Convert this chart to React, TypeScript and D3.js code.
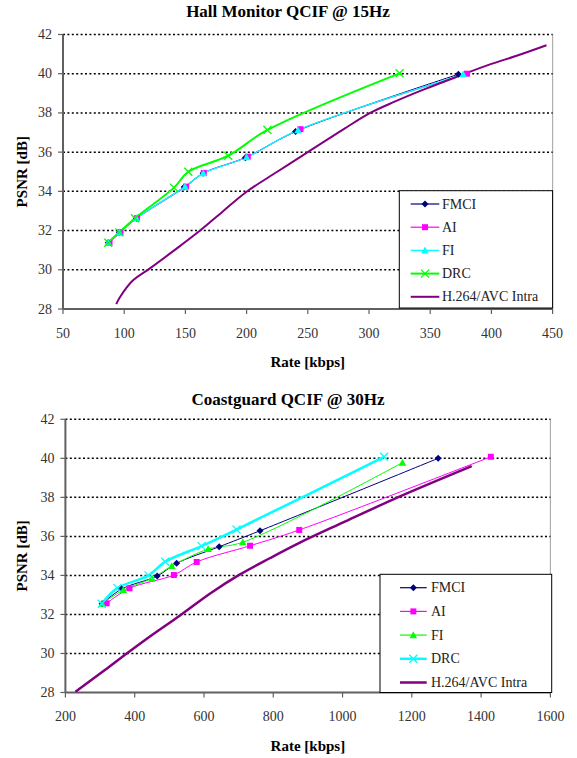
import React from "react";
import * as d3 from "d3";

// ---------- Data: Hall Monitor QCIF @ 15Hz ----------
const hallFMCI: [number, number][] = [[87, 31.38], [96, 31.91], [110, 32.63], [149, 34.22], [164.5, 34.92], [199, 35.72], [240, 37.05], [373, 39.97]];
const hallAI: [number, number][] = [[88, 31.38], [97, 31.91], [110.5, 32.63], [150.5, 34.24], [165, 34.94], [201, 35.77], [244, 37.17], [380, 40.0]];
const hallFI: [number, number][] = [[87, 31.38], [96, 31.91], [110, 32.63], [149.7, 34.24], [164.6, 34.92], [200, 35.74], [242, 37.12], [377, 39.97]];
const hallDRC: [number, number][] = [[87, 31.38], [96, 31.91], [108.8, 32.63], [140.7, 34.19], [152.4, 35.0], [185, 35.82], [217, 37.13], [325, 40.02]];
const hallH264: [number, number][] = [[93.5, 28.25], [96.5, 28.6], [107, 29.45], [121, 30.07], [140, 30.95], [162, 32.0], [181, 33.0], [200, 33.98], [225, 35.0], [250, 36.0], [280, 37.2], [301, 38.0], [320, 38.55], [345, 39.2], [372, 39.85], [400, 40.5], [420, 40.9], [445, 41.45]];

// ---------- Data: Coastguard QCIF @ 30Hz ----------
const coastFMCI: [number, number][] = [[306, 32.55], [362, 33.3], [465, 33.97], [521, 34.62], [644, 35.47], [762, 36.29], [1276, 40.0]];
const coastAI: [number, number][] = [[319, 32.57], [385, 33.34], [513, 34.02], [579, 34.69], [733, 35.52], [875, 36.33], [1428, 40.08]];
const coastFI: [number, number][] = [[306, 32.55], [367, 33.25], [450, 33.85], [507, 34.48], [612, 35.35], [712, 35.7], [1173, 39.78]];
const coastDRC: [number, number][] = [[305, 32.55], [350, 33.35], [440, 34.0], [488, 34.7], [593, 35.5], [694, 36.35], [1120, 40.08]];
const coastH264: [number, number][] = [[229, 28.04], [314, 29.15], [377, 30.0], [450, 30.95], [531, 31.95], [620, 33.1], [704, 34.05], [790, 34.88], [877, 35.68], [1000, 36.7], [1166, 38.05], [1373, 39.6]];

const legendNames = ["FMCI", "AI", "FI", "DRC", "H.264/AVC Intra"];
const yTicks = [28, 30, 32, 34, 36, 38, 40, 42];
const hallXTicks = [50, 100, 150, 200, 250, 300, 350, 400, 450];
const coastXTicks = [200, 400, 600, 800, 1000, 1200, 1400, 1600];

type Marker = "diamond" | "square" | "triangle" | "x" | "none";
interface Series { name: string; data: [number, number][]; color: string; width: number; marker: Marker; }

const NAVY = "#000080", MAG = "#FF00FF", CYAN = "#00FFFF", GREEN = "#00FF00", PURPLE = "#800080";

const FONT = "'Liberation Serif', 'Times New Roman', serif";

function MarkerShape({ type, x, y, color }: { type: Marker; x: number; y: number; color: string }) {
  if (type === "diamond") {
    const s = 3.5;
    return <path d={`M${x},${y - s}L${x + s},${y}L${x},${y + s}L${x - s},${y}Z`} fill={color} />;
  }
  if (type === "square") {
    const s = 3;
    return <rect x={x - s} y={y - s} width={2 * s} height={2 * s} fill={color} />;
  }
  if (type === "triangle") {
    const s = 3.8;
    return <path d={`M${x},${y - s}L${x + s},${y + s * 0.8}L${x - s},${y + s * 0.8}Z`} fill={color} />;
  }
  if (type === "x") {
    const s = 4;
    return <path d={`M${x - s},${y - s}L${x + s},${y + s}M${x - s},${y + s}L${x + s},${y - s}`} stroke={color} strokeWidth={1.3} fill="none" />;
  }
  return null;
}

interface ChartProps {
  title: string; titleY: number;
  left: number; right: number; top: number; bottom: number;
  xDomain: [number, number]; xTicks: number[];
  series: Series[];
  legend: { x0: number; y0: number; x1: number; y1: number; rowY: number; step: number; lx0: number; lx1: number; tx: number };
}

function Chart(p: ChartProps) {
  const x = d3.scaleLinear().domain(p.xDomain).range([p.left, p.right]);
  const y = d3.scaleLinear().domain([28, 42]).range([p.bottom, p.top]);
  const line = d3.line<[number, number]>().x(d => x(d[0])).y(d => y(d[1])).curve(d3.curveCatmullRom.alpha(0.5));
  const cx = (p.left + p.right) / 2;
  const cy = (p.top + p.bottom) / 2;
  const L = p.legend;
  return (
    <g fontFamily={FONT}>
      <text x={288} y={p.titleY} textAnchor="middle" dominantBaseline="central" fontWeight="bold" fontSize={17} fill="#000">{p.title}</text>
      {/* right border */}
      <line x1={p.right} x2={p.right} y1={p.top} y2={p.bottom} stroke="#b0b0b0" strokeWidth={1.2} />
      {/* gridlines */}
      {yTicks.filter(t => t > 28).map(t => (
        <line key={t} x1={p.left} x2={p.right} y1={y(t)} y2={y(t)} stroke="#000" strokeWidth={1.5} strokeDasharray="2,2.4" />
      ))}
      {/* axes */}
      <line x1={p.left} x2={p.left} y1={p.top} y2={p.bottom} stroke="#606060" strokeWidth={2} />
      <line x1={p.left} x2={p.right} y1={p.bottom} y2={p.bottom} stroke="#606060" strokeWidth={2} />
      {yTicks.map(t => (
        <g key={t}>
          <line x1={p.left - 5} x2={p.left} y1={y(t)} y2={y(t)} stroke="#606060" strokeWidth={1.2} />
          <text x={p.left - 11} y={y(t)} textAnchor="end" dominantBaseline="central" fontSize={14} fill="#333">{t}</text>
        </g>
      ))}
      {p.xTicks.map(t => (
        <g key={t}>
          <line x1={x(t)} x2={x(t)} y1={p.bottom} y2={p.bottom + 5} stroke="#606060" strokeWidth={1.2} />
          <text x={x(t)} y={p.bottom + 24} textAnchor="middle" dominantBaseline="central" fontSize={14} fill="#333">{t}</text>
        </g>
      ))}
      <text x={cx} y={p.bottom + 53} textAnchor="middle" dominantBaseline="central" fontWeight="bold" fontSize={15} fill="#000">Rate [kbps]</text>
      <text transform={`translate(22,${cy}) rotate(-90)`} textAnchor="middle" dominantBaseline="central" fontWeight="bold" fontSize={15} fill="#000">PSNR [dB]</text>
      {/* series lines */}
      {p.series.map(s => (
        <path key={s.name} d={line(s.data) || ""} fill="none" stroke={s.color} strokeWidth={s.width} />
      ))}
      {p.series.map(s => s.data.map((d, i) => (
        <MarkerShape key={s.name + i} type={s.marker} x={x(d[0])} y={y(d[1])} color={s.color} />
      )))}
      {/* legend */}
      <rect x={L.x0} y={L.y0} width={L.x1 - L.x0} height={L.y1 - L.y0} fill="#fff" stroke="#000" strokeWidth={1} />
      {p.series.map((s, i) => {
        const ry = L.rowY + i * L.step;
        return (
          <g key={"lg" + s.name}>
            <line x1={L.lx0} x2={L.lx1} y1={ry} y2={ry} stroke={s.color} strokeWidth={Math.max(s.width, 1.2)} />
            <MarkerShape type={s.marker} x={(L.lx0 + L.lx1) / 2} y={ry} color={s.color} />
            <text x={L.tx} y={ry} dominantBaseline="central" fontSize={14} fill="#222">{legendNames[i]}</text>
          </g>
        );
      })}
    </g>
  );
}

export default function App() {
  const hallSeries: Series[] = [
    { name: "FMCI", data: hallFMCI, color: NAVY, width: 1, marker: "diamond" },
    { name: "AI", data: hallAI, color: MAG, width: 1, marker: "square" },
    { name: "FI", data: hallFI, color: CYAN, width: 1.3, marker: "triangle" },
    { name: "DRC", data: hallDRC, color: GREEN, width: 2, marker: "x" },
    { name: "H264", data: hallH264, color: PURPLE, width: 2, marker: "none" },
  ];
  const coastSeries: Series[] = [
    { name: "FMCI", data: coastFMCI, color: NAVY, width: 1, marker: "diamond" },
    { name: "AI", data: coastAI, color: MAG, width: 1, marker: "square" },
    { name: "FI", data: coastFI, color: GREEN, width: 1, marker: "triangle" },
    { name: "DRC", data: coastDRC, color: CYAN, width: 2.5, marker: "x" },
    { name: "H264", data: coastH264, color: PURPLE, width: 2.5, marker: "none" },
  ];
  return (
    <svg width={577} height={758} style={{ position: "absolute", left: 0, top: 0, background: "#fff" }}>
      <rect width={577} height={758} fill="#fff" />
      <Chart
        title="Hall Monitor QCIF @ 15Hz" titleY={11}
        left={63} right={552.6} top={34.5} bottom={309}
        xDomain={[50, 450]} xTicks={hallXTicks}
        series={hallSeries}
        legend={{ x0: 399.3, y0: 190.7, x1: 552.6, y1: 308, rowY: 204, step: 23.2, lx0: 410.7, lx1: 439.3, tx: 442 }}
      />
      <Chart
        title="Coastguard QCIF @ 30Hz" titleY={399.3}
        left={65.4} right={550.4} top={419.3} bottom={692.5}
        xDomain={[200, 1600]} xTicks={coastXTicks}
        series={coastSeries}
        legend={{ x0: 380, y0: 574.3, x1: 551.7, y1: 692.5, rowY: 587.7, step: 23.7, lx0: 400, lx1: 426.7, tx: 431 }}
      />
    </svg>
  );
}
